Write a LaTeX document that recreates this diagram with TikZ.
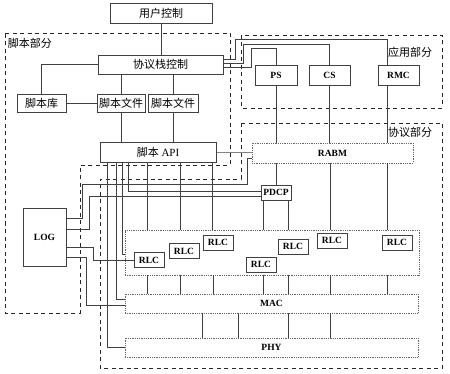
\documentclass[tikz,border=0pt]{standalone}
\usepackage{fontspec}
\setmainfont{Liberation Serif}
\newfontfamily\cjk{Noto Sans CJK SC}
\begin{document}
\begin{tikzpicture}[
x=1pt, y=-1pt,
box/.style={draw=black!75, line width=0.5pt, fill=white, inner sep=0pt, align=center},
zh/.style={font=\cjk\fontsize{11}{11}\selectfont},
en/.style={font=\bfseries\fontsize{9.5}{9.5}\selectfont},
dotbox/.style={draw=black!60, line width=0.5pt, dash pattern=on 0.8pt off 1pt, inner sep=0pt},
part/.style={draw=black!85, line width=0.9pt, dash pattern=on 4pt off 3.5pt},
wire/.style={draw=black!75, line width=0.5pt},
rlc/.style={box, en, minimum width=30pt, minimum height=15pt}
]
\useasboundingbox (0,0) rectangle (450,374);

\draw[part] (5,33) -- (230,33) -- (230,165) -- (80,165) -- (80,313) -- (5,313) -- cycle;
\draw[part] (241,35) rectangle (442,108);
\draw[part] (241,123) -- (442,123) -- (442,368) -- (100,368) -- (100,179) -- (241,179) -- cycle;

\node[zh] (Ls) at (30,43) {脚本部分};
\node[zh] (La) at (410,52) {应用部分};
\node[zh] (Lp) at (410,132) {协议部分};

\node[box, zh, minimum width=102pt, minimum height=20pt] (user) at (161,13) {用户控制};
\node[box, zh, minimum width=125pt, minimum height=19pt] (stack) at (160.5,64.5) {协议栈控制};
\node[box, zh, minimum width=49pt, minimum height=18pt] (lib) at (41.5,103) {脚本库};
\node[box, zh, minimum width=48pt, minimum height=18pt] (fA) at (121,103) {脚本文件};
\node[box, zh, minimum width=50pt, minimum height=18pt] (fB) at (173,103) {脚本文件};
\node[box, minimum width=116pt, minimum height=20pt, font=\fontsize{11}{11}\selectfont] (api) at (158,152) {{\cjk 脚本} API};

\node[box, en, minimum width=42pt, minimum height=20pt] (ps) at (276,75) {PS};
\node[box, en, minimum width=41pt, minimum height=20pt] (cs) at (329.5,75) {CS};
\node[box, en, minimum width=41pt, minimum height=20pt] (rmc) at (398.5,75) {RMC};

\node[dotbox, en, minimum width=161pt, minimum height=20pt] (rabm) at (332.5,153) {RABM};
\node[box, en, minimum width=30pt, minimum height=15pt] (pdcp) at (276,192.5) {PDCP};
\node[box, en, minimum width=43pt, minimum height=58pt] (log) at (44.5,237) {LOG};

\node[dotbox, minimum width=294pt, minimum height=45pt] (rlcs) at (272,252.5) {};
\node[rlc] (r1) at (149,260) {RLC};
\node[rlc] (r2) at (184,251) {RLC};
\node[rlc] (r3) at (218,242.5) {RLC};
\node[rlc] (r4) at (261,264.5) {RLC};
\node[rlc] (r5) at (293,246.5) {RLC};
\node[rlc] (r6) at (332,240.5) {RLC};
\node[rlc] (r7) at (397,242.5) {RLC};

\node[dotbox, en, minimum width=293pt, minimum height=19pt] (mac) at (271.5,303.5) {MAC};
\node[dotbox, en, minimum width=293pt, minimum height=19pt] (phy) at (271.5,347.5) {PHY};

\draw[wire] (user.south) -- (user.south |- stack.north);
\draw[wire] (lib.north) |- (stack.west);
\draw[wire] (lib) -- (fA);
\draw[wire] (fA.north |- stack.south) -- (fA.north);
\draw[wire] (fB.north |- stack.south) -- (fB.north);
\draw[wire] (fA.south) -- (fA.south |- api.north);
\draw[wire] (fB.south) -- (fB.south |- api.north);
\draw[wire] (api) -- (rabm);

\draw[wire] ([yshift=5.5pt]stack.east) -| (235,39) -| (rmc.north -| 387,0);
\draw[wire] ([yshift=1.5pt]stack.east) -| (243,44) -| (cs.north);
\draw[wire] ([yshift=-2.5pt]stack.east) -| (251,48) -| (ps.north);

\draw[wire] (ps.south) -- (ps.south |- rabm.north);
\draw[wire] (cs.south) -- (cs.south |- rabm.north);
\draw[wire] (rmc.south -| 387,0) -- (rabm.north -| 387,0);

\draw[wire] (rabm.south -| pdcp.north) -- (pdcp.north);
\foreach \x in {330,387}
  \draw[wire] (rabm.south -| \x,0) -- (rlcs.north -| \x,0);
\foreach \x in {263,288}
  \draw[wire] (pdcp.south -| \x,0) -- (rlcs.north -| \x,0);
\foreach \x in {147,180,212}
  \draw[wire] (api.south -| \x,0) -- (rlcs.north -| \x,0);

\draw[wire] (api.south -| 128,0) |- ([yshift=1.5pt]pdcp.west);
\draw[wire] (api.south -| 122,0) |- ([yshift=-1.5pt]rlcs.west);
\draw[wire] (api.south -| 116,0) |- ([yshift=4.5pt]mac.west);
\draw[wire] (api.south -| 107,0) |- (phy.west);

\draw[wire] ([yshift=19pt]log.east) -| (82,184) -| (247,158) -- ([yshift=-5pt]rabm.west);
\draw[wire] ([yshift=8pt]log.east) -| (89,196) -- ([yshift=-3.5pt]pdcp.west);
\draw[wire] ([yshift=-10pt]log.east) -| (93,0 |- r1.west) -- (r1.west);
\draw[wire] ([yshift=-20pt]log.east) -| (86,305) -- ([yshift=-1.5pt]mac.west);

\foreach \x in {147,180,213,263,288,330,387}
  \draw[wire] (rlcs.south -| \x,0) -- (mac.north -| \x,0);
\foreach \x in {202,238,288,330}
  \draw[wire] (mac.south -| \x,0) -- (phy.north -| \x,0);

\end{tikzpicture}
\end{document}
